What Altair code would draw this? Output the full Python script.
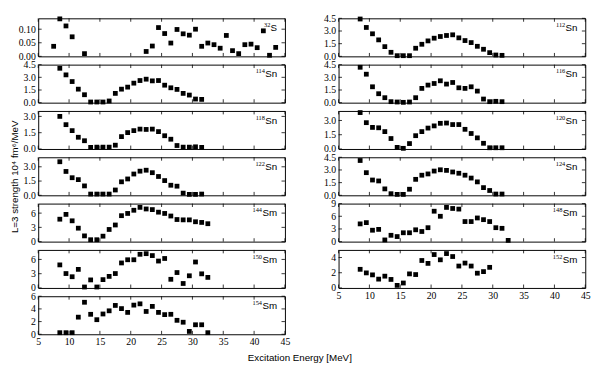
import altair as alt
import pandas as pd

# ---------------- data ----------------
X_TICKS = [5, 10, 15, 20, 25, 30, 35, 40, 45]

E_S32 = [7.5, 8.5, 9.5, 10.5, 12.5, 22.5, 23.5, 24.5, 25.5, 26.5, 27.5, 28.5, 29.5, 30.5,
         31.5, 32.5, 33.5, 34.5, 35.5, 36.5, 37.5, 38.5, 39.5, 40.5, 41.5, 42.5, 43.5]
S32 = [0.037, 0.138, 0.112, 0.072, 0.010, 0.018, 0.038, 0.106, 0.084, 0.049, 0.099, 0.083,
       0.078, 0.100, 0.037, 0.049, 0.043, 0.030, 0.077, 0.021, 0.010, 0.043, 0.045, 0.032,
       0.094, 0.004, 0.033]

E_24 = [8.5, 9.5, 10.5, 11.5, 12.5, 13.5, 14.5, 15.5, 16.5, 17.5, 18.5, 19.5, 20.5, 21.5,
        22.5, 23.5, 24.5, 25.5, 26.5, 27.5, 28.5, 29.5, 30.5, 31.5]
E_25 = [8.5, 9.5, 10.5, 11.5, 12.5, 13.5, 14.5, 15.5, 16.5, 17.5, 18.5, 19.5, 20.5, 21.5,
        22.5, 23.5, 24.5, 25.5, 26.5, 27.5, 28.5, 29.5, 30.5, 31.5, 32.5]
E_22 = [8.5, 9.5, 10.5, 11.5, 12.5, 13.5, 14.5, 15.5, 16.5, 17.5, 18.5, 19.5, 20.5, 21.5,
        22.5, 23.5, 24.5, 25.5, 26.5, 27.5, 28.5, 29.5]

SN112 = [4.42, 3.42, 2.67, 1.95, 1.15, 0.48, 0.08, 0.08, 0.08, 0.96, 1.43, 1.83, 2.15, 2.35,
         2.47, 2.55, 2.19, 1.87, 1.63, 1.19, 0.84, 0.44, 0.16, 0.12]
SN114 = [4.07, 3.29, 2.50, 1.60, 0.94, 0.08, 0.08, 0.08, 0.20, 1.10, 1.60, 1.84, 2.31, 2.62,
         2.78, 2.58, 2.62, 2.07, 1.76, 1.57, 1.10, 0.90, 0.43, 0.39]
SN116 = [4.19, 3.37, 1.88, 1.06, 0.59, 0.12, 0.08, 0.04, 0.08, 0.59, 1.69, 2.08, 2.27, 2.59,
         2.20, 2.39, 1.76, 1.69, 1.88, 1.37, 0.43, 0.12, 0.16, 0.12]
SN118 = [3.00, 2.24, 1.69, 1.08, 0.76, 0.15, 0.17, 0.17, 0.17, 0.35, 1.14, 1.51, 1.69, 1.83,
         1.80, 1.83, 1.60, 1.22, 0.90, 0.32, 0.17, 0.17, 0.20, 0.15]
SN120 = [3.83, 2.77, 2.27, 2.23, 1.83, 1.10, 0.17, 0.07, 0.57, 1.40, 1.83, 2.20, 2.43, 2.70,
         2.73, 2.57, 2.57, 2.07, 1.63, 1.17, 0.60, 0.13, 0.13, 0.13]
SN122 = [3.53, 2.51, 1.85, 1.65, 0.99, 0.13, 0.13, 0.13, 0.13, 0.56, 1.42, 1.72, 2.24, 2.54,
         2.64, 2.38, 1.98, 1.55, 1.06, 0.96, 0.23, 0.10, 0.10, 0.13]
SN124 = [4.12, 2.68, 1.81, 1.70, 0.76, 0.19, 0.11, 0.11, 0.72, 1.89, 2.38, 2.53, 2.87, 3.02,
         2.95, 2.76, 2.61, 2.38, 2.04, 1.59, 0.91, 0.57, 0.15, 0.15]

SM144 = [4.72, 5.73, 4.38, 2.83, 1.21, 0.40, 0.40, 1.15, 2.56, 3.50, 5.46, 5.93, 6.60, 7.21,
         6.87, 6.74, 6.20, 5.93, 5.39, 4.65, 4.58, 4.58, 4.18, 4.04, 3.77]
SM148 = [4.20, 4.50, 2.70, 2.90, 0.40, 1.50, 1.20, 2.10, 2.10, 2.80, 2.40, 3.30, 7.20, 6.00,
         8.10, 7.85, 7.70, 4.75, 4.75, 5.60, 5.20, 4.75, 3.30, 3.15, 0.30]
SM150 = [4.85, 3.03, 2.36, 3.91, 0.20, 1.69, 0.20, 1.75, 2.43, 3.03, 5.26, 5.93, 5.93, 7.08,
         7.21, 6.81, 5.66, 6.20, 1.82, 3.24, 0.94, 2.56, 5.46, 2.97, 2.22]
SM152 = [2.45, 1.98, 1.72, 1.16, 1.55, 1.12, 0.34, 0.65, 1.85, 1.76, 3.61, 3.23, 4.39, 3.70,
         4.52, 4.13, 2.88, 3.27, 2.88, 1.94, 2.15, 2.71]
SM154 = [0.25, 0.25, 0.25, 2.70, 5.05, 3.15, 2.30, 3.20, 3.70, 4.55, 4.05, 3.45, 4.60, 4.80,
         3.60, 4.40, 3.45, 3.10, 3.15, 2.20, 1.90, 0.45, 1.50, 1.50, 0.25]

YT_S = [0.0, 0.05, 0.10]
YT_SN = [0.0, 1.5, 3.0, 4.5]
YT_SM3 = [0, 3, 6, 9]
YT_SM2 = [0, 2, 4, 6]

Y_TITLE = "L=3 strength 10\u2074 fm\u2076/MeV"
X_TITLE = "Excitation Energy [MeV]"

# ---------------- layout ----------------
W, H = 253, 39
TL = 3.5
SERIF = "Liberation Serif"
SANS = "Liberation Sans"
EL_W = {"S": 7.0, "Sn": 12.5, "Sm": 15.5}


def panel(mass, elem, energies, values, ytop, yticks, yfmt, bottom=False, ytitle=None):
    df = pd.DataFrame({"E": energies, "S": values})
    xs = alt.Scale(domain=[5, 45], nice=False, zero=False)
    ys = alt.Scale(domain=[0, ytop], nice=False, zero=False)
    yt_used = [t for t in yticks if t <= ytop + 1e-9]
    xaxis = alt.Axis(values=X_TICKS, format="d", labels=bottom, ticks=False, domain=False,
                     grid=False, title=None, labelPadding=3, labelFlush=False,
                     labelOverlap=False, labelFont=SERIF, labelFontSize=10,
                     labelColor="black")
    yaxis = alt.Axis(values=yt_used, format=yfmt, ticks=False, domain=False, grid=False,
                     title=ytitle, labelPadding=3, labelFlush=False, labelOverlap=False,
                     labelFont=SERIF, labelFontSize=10, labelColor="black",
                     titlePadding=4, titleFont=SANS, titleFontSize=10,
                     titleFontWeight="normal", titleColor="black")
    pts = alt.Chart(df).mark_square(size=24, color="black", opacity=1).encode(
        x=alt.X("E:Q", scale=xs, axis=xaxis),
        y=alt.Y("S:Q", scale=ys, axis=yaxis),
    )
    xt = pd.DataFrame({"t": X_TICKS})
    top = alt.Chart(xt).mark_rule(color="black", strokeWidth=0.8).encode(
        x=alt.X("t:Q", scale=xs, axis=xaxis), y=alt.value(0), y2=alt.value(TL))
    bot = alt.Chart(xt).mark_rule(color="black", strokeWidth=0.8).encode(
        x=alt.X("t:Q", scale=xs, axis=xaxis), y=alt.value(H), y2=alt.value(H - TL))
    yt = pd.DataFrame({"t": yt_used})
    lft = alt.Chart(yt).mark_rule(color="black", strokeWidth=0.8).encode(
        y=alt.Y("t:Q", scale=ys, axis=yaxis), x=alt.value(0), x2=alt.value(TL))
    rgt = alt.Chart(yt).mark_rule(color="black", strokeWidth=0.8).encode(
        y=alt.Y("t:Q", scale=ys, axis=yaxis), x=alt.value(W), x2=alt.value(W - TL))
    el = alt.Chart(pd.DataFrame({"n": [elem]})).mark_text(
        align="right", baseline="alphabetic", font=SANS, fontSize=10, color="black"
    ).encode(text="n:N", x=alt.value(W - 8), y=alt.value(13))
    ms = alt.Chart(pd.DataFrame({"n": [mass]})).mark_text(
        align="right", baseline="alphabetic", font=SERIF, fontSize=6.5, color="black"
    ).encode(text="n:N", x=alt.value(W - 8 - EL_W[elem]), y=alt.value(9))
    return alt.layer(pts, top, bot, lft, rgt, el, ms).properties(width=W, height=H)


left = [
    panel("32", "S", E_S32, S32, 0.14, YT_S, ".2f"),
    panel("114", "Sn", E_24, SN114, 4.5, YT_SN, ".1f"),
    panel("118", "Sn", E_24, SN118, 3.5, YT_SN, ".1f"),
    panel("122", "Sn", E_24, SN122, 4.0, YT_SN, ".1f", ytitle=Y_TITLE),
    panel("144", "Sm", E_25, SM144, 8.0, YT_SM3, "d"),
    panel("150", "Sm", E_25, SM150, 8.0, YT_SM3, "d"),
    panel("154", "Sm", E_25, SM154, 6.0, YT_SM2, "d", bottom=True),
]
right = [
    panel("112", "Sn", E_24, SN112, 4.5, YT_SN, ".1f"),
    panel("116", "Sn", E_24, SN116, 4.5, YT_SN, ".1f"),
    panel("120", "Sn", E_24, SN120, 4.0, YT_SN, ".1f"),
    panel("124", "Sn", E_24, SN124, 4.5, YT_SN, ".1f"),
    panel("148", "Sm", E_25, SM148, 9.0, YT_SM3, "d"),
    panel("152", "Sm", E_22, SM152, 5.0, YT_SM2, "d", bottom=True),
]

left_col = alt.vconcat(*left, spacing=8.5, bounds="flush")
right_col = alt.vconcat(*right, spacing=8.5, bounds="flush")

chart = alt.hconcat(left_col, right_col, spacing=33).properties(
    title=alt.TitleParams(X_TITLE, orient="bottom", anchor="middle", frame="bounds",
                          font=SANS, fontSize=10, fontWeight="normal", color="black",
                          offset=6),
    padding={"left": 0, "top": 0, "right": 5, "bottom": 0},
).configure_view(
    stroke="black", strokeWidth=1
)

chart.save("out.html", embed_options={"renderer": "svg", "actions": False})
